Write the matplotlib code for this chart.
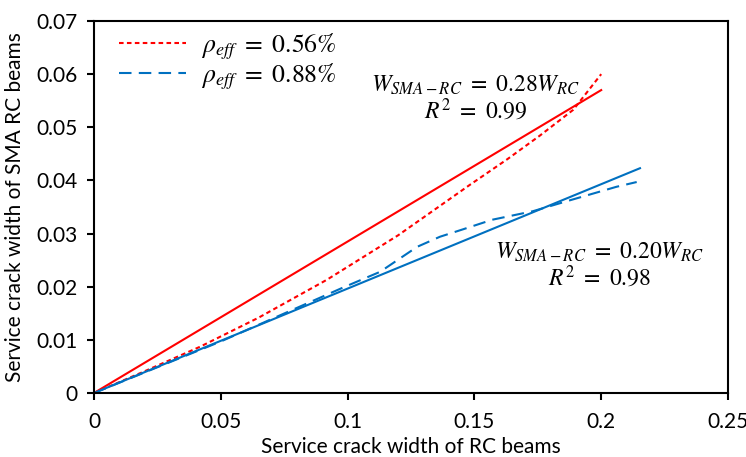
import matplotlib.pyplot as plt

plt.rcParams['font.family'] = ['Lato', 'DejaVu Sans']
plt.rcParams['mathtext.fontset'] = 'stix'

# rho_eff = 0.56%
red_x = [0, 0.02, 0.0418, 0.065, 0.0918, 0.12, 0.148, 0.163, 0.176, 0.189, 0.2]
red_y = [0, 0.0041, 0.0087, 0.0142, 0.0213, 0.0297, 0.0391, 0.0440, 0.0485, 0.0533, 0.0600]
red_fit_x = [0, 0.2]
red_fit_y = [0, 0.057]

# rho_eff = 0.88%
blue_x = [0, 0.05, 0.098, 0.1128, 0.1274, 0.1364, 0.1455, 0.157, 0.173, 0.1865, 0.206, 0.214]
blue_y = [0, 0.0097, 0.0198, 0.0228, 0.0275, 0.0294, 0.0308, 0.0326, 0.0342, 0.0361, 0.0388, 0.0397]
blue_fit_x = [0, 0.2153]
blue_fit_y = [0, 0.0423]

red = '#ff0000'
blue = '#0070c0'

fig = plt.figure(figsize=(7.46, 4.57), dpi=100)
ax = fig.add_axes([94 / 746, 64 / 457, 634 / 746, 372 / 457])

ax.plot(red_x, red_y, linestyle=(0, (2.2, 1.6)), color=red, lw=1.5, label=r'$\rho_{eff}\ =\ 0.56\%$')
ax.plot(blue_x, blue_y, linestyle=(0, (6, 3.5)), color=blue, lw=1.5, label=r'$\rho_{eff}\ =\ 0.88\%$')
ax.plot(red_fit_x, red_fit_y, '-', color=red, lw=1.5)
ax.plot(blue_fit_x, blue_fit_y, '-', color=blue, lw=1.5)

ax.text(0.1505, 0.0579, r'$W_{SMA-RC}\ =\ 0.28W_{RC}$', ha='center', va='center', fontsize=17)
ax.text(0.1505, 0.0532, r'$R^2\ =\ 0.99$', ha='center', va='center', fontsize=17)
ax.text(0.1995, 0.0265, r'$W_{SMA-RC}\ =\ 0.20W_{RC}$', ha='center', va='center', fontsize=17)
ax.text(0.1995, 0.0219, r'$R^2\ =\ 0.98$', ha='center', va='center', fontsize=17)

ax.set_xlim(0, 0.25)
ax.set_ylim(0, 0.07)
ax.set_xticks([0, 0.05, 0.1, 0.15, 0.2, 0.25])
ax.set_xticklabels(['0', '0.05', '0.1', '0.15', '0.2', '0.25'])
ax.set_yticks([0, 0.01, 0.02, 0.03, 0.04, 0.05, 0.06, 0.07])
ax.set_yticklabels(['0', '0.01', '0.02', '0.03', '0.04', '0.05', '0.06', '0.07'])
ax.tick_params(direction='out', length=5, width=1.5, labelsize=15, pad=7)
ax.tick_params(axis='x', pad=9)
for s in ax.spines.values():
    s.set_linewidth(1.5)

ax.set_xlabel('Service crack width of RC beams', fontsize=15, labelpad=3)
ax.set_ylabel('Service crack width of SMA RC beams', fontsize=15, labelpad=8)

leg = ax.legend(loc='upper left', frameon=False, fontsize=18.5, handlelength=2.6,
                bbox_to_anchor=(0.003, 1.035), labelspacing=0.0, handletextpad=0.6)

fig.savefig('out.png', dpi=100)
